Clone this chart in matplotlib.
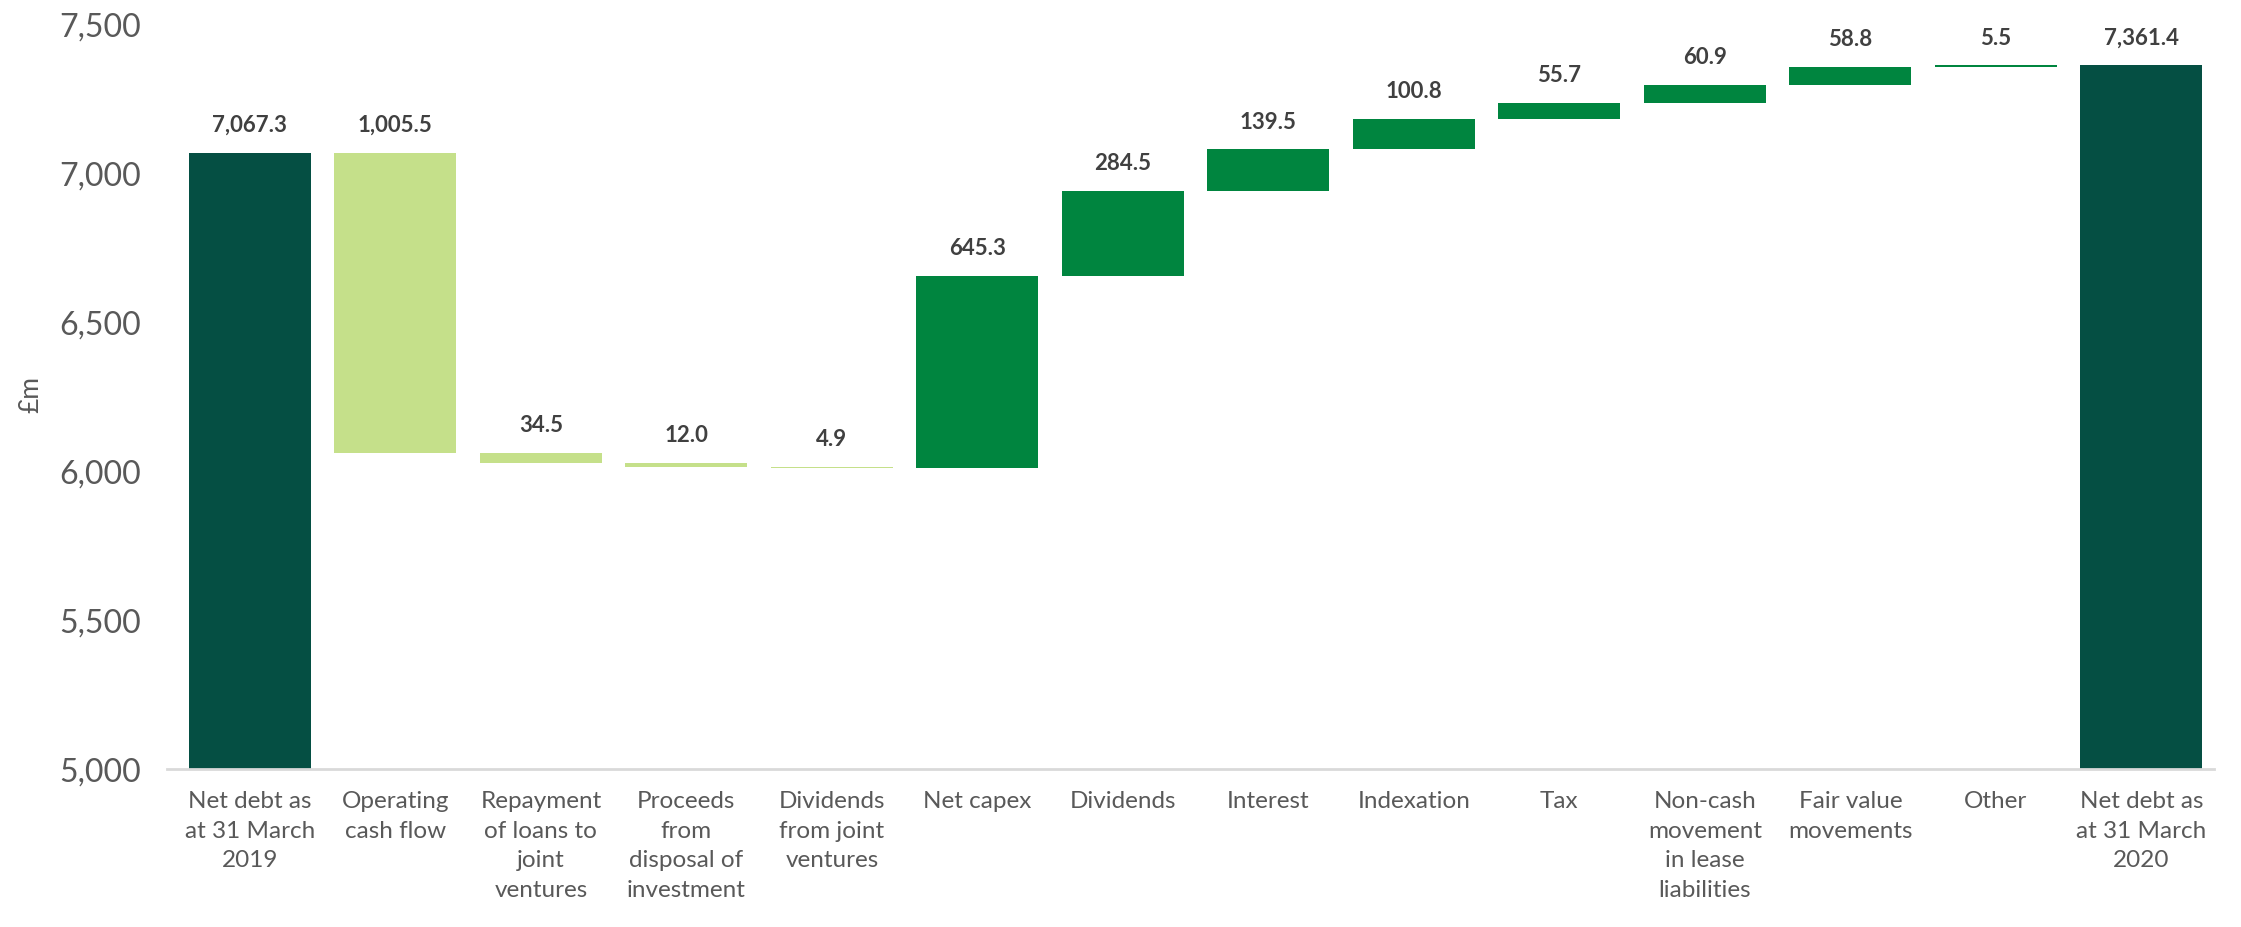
import matplotlib.pyplot as plt
import numpy as np

plt.rcParams['font.family'] = ['Lato', 'DejaVu Sans']

categories = ['Net debt as\nat 31 March\n2019', 'Operating\ncash flow',
              'Repayment\nof loans to\njoint\nventures', 'Proceeds\nfrom\ndisposal of\ninvestment',
              'Dividends\nfrom joint\nventures', 'Net capex', 'Dividends', 'Interest',
              'Indexation', 'Tax', 'Non-cash\nmovement\nin lease\nliabilities',
              'Fair value\nmovements', 'Other', 'Net debt as\nat 31 March\n2020']
opening = 7067.3
closing = 7361.4
# signed movements between the two totals
moves = [-1005.5, -34.5, -12.0, -4.9, 645.3, 284.5, 139.5, 100.8, 55.7, 60.9, 58.8, 5.5]

dark = '#054F43'
light = '#C5E08A'
mid = '#00853F'

bottoms, heights, colors, labels, tops = [], [], [], [], []
bottoms.append(0); heights.append(opening); colors.append(dark)
labels.append(f'{opening:,.1f}'); tops.append(opening)
level = opening
for m in moves:
    new = level + m
    bottoms.append(min(level, new))
    heights.append(abs(m))
    colors.append(mid if m > 0 else light)
    labels.append(f'{abs(m):,.1f}')
    tops.append(max(level, new))
    level = new
bottoms.append(0); heights.append(closing); colors.append(dark)
labels.append(f'{closing:,.1f}'); tops.append(closing)

fig = plt.figure(figsize=(22.41, 9.27), dpi=100)
ax = fig.add_axes([0.0745, 0.1704, 0.9135, 0.8036])

x = np.arange(len(categories))
ax.bar(x, heights, bottom=bottoms, width=0.84, color=colors, zorder=2)

for xi, top, lab in zip(x, tops, labels):
    ax.annotate(lab, (xi, top), xytext=(0, 15), textcoords='offset points',
                ha='center', va='baseline', fontsize=16, fontweight='bold', color='#404040')

ax.set_ylim(5000, 7500)
ax.set_xlim(-0.57, 13.5)
ax.set_yticks(np.arange(5000, 7501, 500))
ax.set_yticklabels([f'{v:,}' for v in range(5000, 7501, 500)])
ax.set_xticks(x)
ax.set_xticklabels(categories, linespacing=1.5)

ax.tick_params(axis='y', length=0, labelsize=23, labelcolor='#595959', pad=19)
ax.tick_params(axis='x', length=0, labelsize=17.5, labelcolor='#595959', pad=16)
for s in ['top', 'right', 'left']:
    ax.spines[s].set_visible(False)
ax.spines['bottom'].set_color('#D9D9D9')
ax.spines['bottom'].set_linewidth(2)

fig.text(31 / 2241, 0.574, '£m', rotation=90, ha='center', va='center',
         fontsize=19, color='#595959')

fig.savefig('out.png', dpi=100)
